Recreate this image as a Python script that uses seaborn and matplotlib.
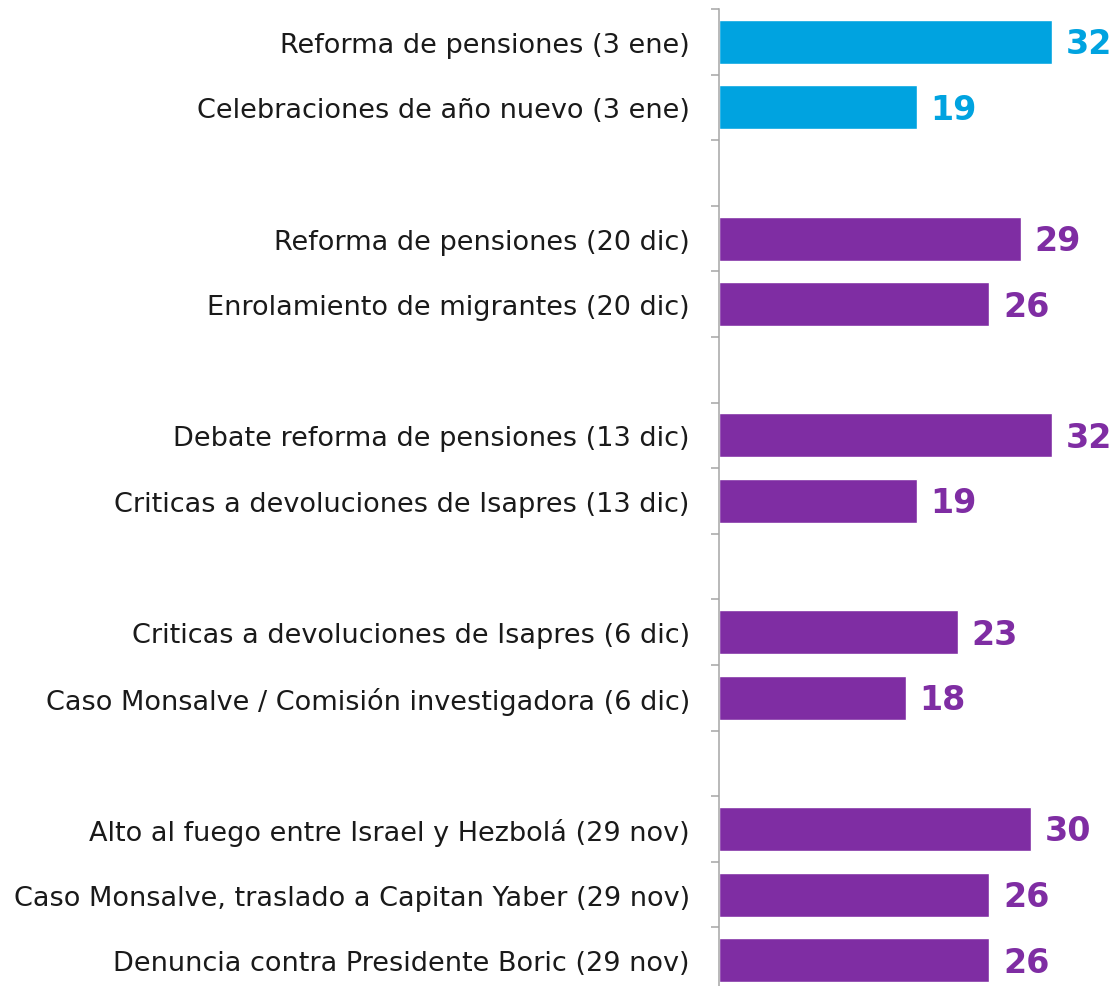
import matplotlib
matplotlib.use("Agg")
import matplotlib.pyplot as plt
import numpy as np
import pandas as pd
import seaborn as sns

sns.set_theme(style="white")
plt.rcParams["font.family"] = ["DejaVu Sans"]

# ---------------------------------------------------------------------------
# Data
# ---------------------------------------------------------------------------
topics = [
    "Reforma de pensiones (3 ene)",
    "Celebraciones de año nuevo (3 ene)",
    "Reforma de pensiones (20 dic)",
    "Enrolamiento de migrantes (20 dic)",
    "Debate reforma de pensiones (13 dic)",
    "Criticas a devoluciones de Isapres (13 dic)",
    "Criticas a devoluciones de Isapres (6 dic)",
    "Caso Monsalve / Comisión investigadora (6 dic)",
    "Alto al fuego entre Israel y Hezbolá (29 nov)",
    "Caso Monsalve, traslado a Capitan Yaber (29 nov)",
    "Denuncia contra Presidente Boric (29 nov)",
]
values = [32, 19, 29, 26, 32, 19, 23, 18, 30, 26, 26]
groups = ["latest", "latest", "prev", "prev", "prev", "prev",
          "prev", "prev", "prev", "prev", "prev"]

# blank slots between weekly groups
order = [
    topics[0], topics[1], " ",
    topics[2], topics[3], "  ",
    topics[4], topics[5], "   ",
    topics[6], topics[7], "    ",
    topics[8], topics[9], topics[10],
]

palette = {"latest": "#00A3E0", "prev": "#7F2DA3"}

df = pd.DataFrame({"topic": topics, "value": values, "group": groups})

# ---------------------------------------------------------------------------
# Plot
# ---------------------------------------------------------------------------
W, H = 1118, 987
fig = plt.figure(figsize=(W / 100, H / 100), dpi=100)
slot_px = 65.6
top_px, axis_x = 10, 719
height_px = slot_px * len(order)
ax = fig.add_axes([
    axis_x / W,
    (H - top_px - height_px) / H,
    (W - axis_x) / W,
    height_px / H,
])

sns.barplot(
    data=df, y="topic", x="value", order=order, hue="group",
    palette=palette, dodge=False, legend=False, width=0.67,
    saturation=1, orient="h", ax=ax,
)

ax.set_xlim(0, (W - axis_x) / 10.4)
ax.set_ylim(len(order) - 0.5, -0.5)
ax.set_xlabel("")
ax.set_ylabel("")
ax.set_xticks([])

# value labels
for t, v, g in zip(topics, values, groups):
    ax.text(v + 1.3, order.index(t) + 0.03, str(v), va="center", ha="left",
            fontsize=24, fontweight="bold", color=palette[g])

# category ticks: labels at centres, tick marks at slot boundaries
ax.set_yticks(np.arange(len(order)))
ax.set_yticklabels(order, fontsize=19.5, color="#1A1A1A")
ax.tick_params(axis="y", which="major", length=0, pad=21)
ax.set_yticks(np.arange(len(order) + 1) - 0.5, minor=True)
ax.tick_params(axis="y", which="minor", length=6, width=1.1,
               color="#A6A6A6", left=True)

for side in ["top", "right", "bottom"]:
    ax.spines[side].set_visible(False)
ax.spines["left"].set_color("#A6A6A6")
ax.spines["left"].set_linewidth(1.1)

fig.savefig("out.png", dpi=100)
